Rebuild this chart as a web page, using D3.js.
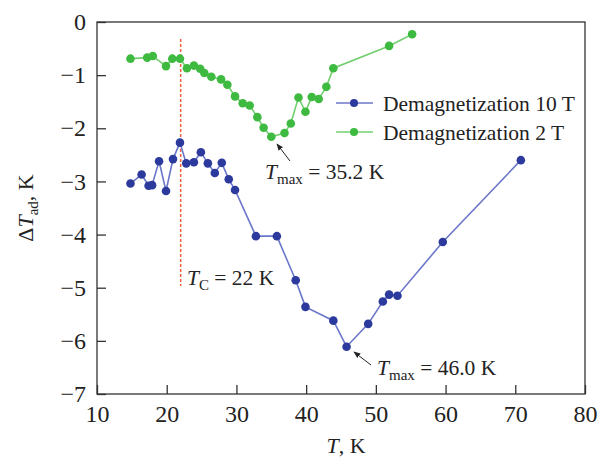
<!DOCTYPE html>
<html>
<head>
<meta charset="utf-8">
<script src="https://cdn.jsdelivr.net/npm/d3@7"></script>
<style>
  body { margin: 0; background: #fff; }
  svg text { font-family: "Liberation Serif", "DejaVu Serif", serif; fill: #222; }
</style>
</head>
<body>
<div id="chart"></div>
<script>
let w = 601;
let h = 458;
let margin = { top: 22, right: 15, bottom: 64, left: 97 };

// Demagnetization 10 T
let tBlue = [14.8, 16.4, 17.4, 17.9, 18.9, 19.9, 20.9, 21.9, 22.8, 23.9, 24.9, 25.9, 26.9, 27.9, 28.9, 29.8,
             32.8, 35.8, 38.5, 39.9, 43.9, 45.8, 48.9, 51.0, 51.9, 53.1, 59.6, 70.8];
let dtBlue = [-3.04, -2.87, -3.08, -3.07, -2.62, -3.18, -2.58, -2.27, -2.66, -2.64, -2.45, -2.66, -2.84, -2.65, -2.96, -3.16,
              -4.03, -4.03, -4.86, -5.36, -5.62, -6.11, -5.68, -5.26, -5.13, -5.15, -4.14, -2.60];

// Demagnetization 2 T
let tGreen = [14.8, 17.2, 18.0, 19.9, 20.8, 21.9, 22.9, 23.9, 24.8, 25.4, 26.4, 27.8, 28.7, 29.8, 30.9, 31.9,
              33.0, 33.9, 35.0, 36.9, 37.8, 38.9, 39.9, 40.8, 41.8, 42.9, 43.9, 51.9, 55.2];
let dtGreen = [-0.69, -0.67, -0.64, -0.83, -0.69, -0.69, -0.87, -0.82, -0.88, -0.96, -1.03, -1.08, -1.18, -1.40, -1.53, -1.57,
               -1.79, -1.99, -2.16, -2.09, -1.91, -1.42, -1.69, -1.41, -1.45, -1.22, -0.87, -0.45, -0.23];

let xTicks = [10, 20, 30, 40, 50, 60, 70, 80];
let yTicks = [0, -1, -2, -3, -4, -5, -6, -7];
let seriesNames = ["Demagnetization 10 T", "Demagnetization 2 T"];
let tCurie = 22;

let blueDot = "#2b3a9c";
let blueLine = "#6b77c9";
let greenDot = "#3dba3f";
let greenLine = "#72cf6f";

let svg = d3.select("#chart")
            .append("svg")
            .attr("width", w)
            .attr("height", h);

let xScale = d3.scaleLinear([10, 80], [margin.left, w - margin.right - 1]);
let yScale = d3.scaleLinear([0, -7], [margin.top, h - margin.bottom]);

// frame
svg.append("rect")
   .attr("x", xScale(10))
   .attr("y", yScale(0))
   .attr("width", xScale(80) - xScale(10))
   .attr("height", yScale(-7) - yScale(0))
   .attr("fill", "none")
   .attr("stroke", "#333")
   .attr("stroke-width", 1.3);

let minus = (v) => v < 0 ? "\u2212" + Math.abs(v) : "" + v;

let xAxis = d3.axisBottom(xScale).tickValues(xTicks).tickSize(-9).tickPadding(11).tickSizeOuter(0);
let gx = svg.append("g")
   .attr("transform", `translate(0,${yScale(-7)})`)
   .call(xAxis);
gx.select(".domain").remove();
gx.selectAll("line").attr("stroke", "#333").attr("stroke-width", 1.3);
gx.selectAll("text").attr("font-size", 24).attr("fill", "#222");

let yAxis = d3.axisLeft(yScale).tickValues(yTicks).tickFormat(minus).tickSize(-9).tickPadding(11).tickSizeOuter(0);
let gy = svg.append("g")
   .attr("transform", `translate(${xScale(10)},0)`)
   .call(yAxis);
gy.select(".domain").remove();
gy.selectAll("line").attr("stroke", "#333").attr("stroke-width", 1.3);
gy.selectAll("text").attr("font-size", 24).attr("fill", "#222");

// Curie temperature marker
svg.append("line")
   .attr("x1", xScale(tCurie)).attr("x2", xScale(tCurie))
   .attr("y1", yScale(-0.32)).attr("y2", yScale(-4.97))
   .attr("stroke", "#f0603c")
   .attr("stroke-width", 1.5)
   .attr("stroke-dasharray", "3,2");

let line = d3.line().x((d) => xScale(d[0])).y((d) => yScale(d[1]));

function drawSeries(ts, vals, lc, dc) {
  let pts = d3.zip(ts, vals);
  svg.append("path")
     .datum(pts)
     .attr("d", line)
     .attr("fill", "none")
     .attr("stroke", lc)
     .attr("stroke-width", 1.6);
  svg.append("g").selectAll("circle")
     .data(pts)
     .enter()
     .append("circle")
     .attr("cx", (d) => xScale(d[0]))
     .attr("cy", (d) => yScale(d[1]))
     .attr("r", 4.3)
     .attr("fill", dc);
}

drawSeries(tBlue, dtBlue, blueLine, blueDot);
drawSeries(tGreen, dtGreen, greenLine, greenDot);

// legend
let legendData = [[seriesNames[0], blueLine, blueDot], [seriesNames[1], greenLine, greenDot]];
let legend = svg.append("g");
legendData.forEach((d, i) => {
  let y = 103 + i * 29;
  legend.append("line")
        .attr("x1", 336).attr("x2", 373).attr("y1", y).attr("y2", y)
        .attr("stroke", d[1]).attr("stroke-width", 1.6);
  legend.append("circle").attr("cx", 354).attr("cy", y).attr("r", 4).attr("fill", d[2]);
  legend.append("text")
        .attr("x", 383).attr("y", y + 8)
        .attr("font-size", 21.5)
        .text(d[0]);
});

// annotations
svg.append("defs").append("marker")
   .attr("id", "arrow")
   .attr("viewBox", "0 0 10 10")
   .attr("refX", 9).attr("refY", 5)
   .attr("markerWidth", 7).attr("markerHeight", 7)
   .attr("orient", "auto")
   .append("path")
   .attr("d", "M0,1 L10,5 L0,9 Z")
   .attr("fill", "#222");

function label(x, y, main, sub, rest) {
  let t = svg.append("text").attr("x", x).attr("y", y).attr("font-size", 21.5);
  t.append("tspan").attr("font-style", "italic").text(main);
  t.append("tspan").attr("font-size", 15).attr("dy", 5).text(sub);
  t.append("tspan").attr("dy", -5).text(rest);
}

label(265, 179, "T", "max", " = 35.2 K");
svg.append("line")
   .attr("x1", 290).attr("y1", 161).attr("x2", 277).attr("y2", 144)
   .attr("stroke", "#222").attr("stroke-width", 1)
   .attr("marker-end", "url(#arrow)");

label(377, 375, "T", "max", " = 46.0 K");
svg.append("line")
   .attr("x1", 371).attr("y1", 365).attr("x2", 354).attr("y2", 352)
   .attr("stroke", "#222").attr("stroke-width", 1)
   .attr("marker-end", "url(#arrow)");

label(187, 285, "T", "C", " = 22 K");

// axis titles
let yt = svg.append("text")
   .attr("transform", `translate(33,${(yScale(0) + yScale(-7)) / 2}) rotate(-90)`)
   .attr("text-anchor", "middle")
   .attr("font-size", 22);
yt.append("tspan").text("\u0394");
yt.append("tspan").attr("font-style", "italic").text("T");
yt.append("tspan").attr("font-size", 15).attr("dy", 5).text("ad");
yt.append("tspan").attr("dy", -5).text(", K");

let xt = svg.append("text")
   .attr("x", 346)
   .attr("y", 453)
   .attr("text-anchor", "middle")
   .attr("font-size", 22);
xt.append("tspan").attr("font-style", "italic").text("T");
xt.append("tspan").text(", K");
</script>
</body>
</html>
